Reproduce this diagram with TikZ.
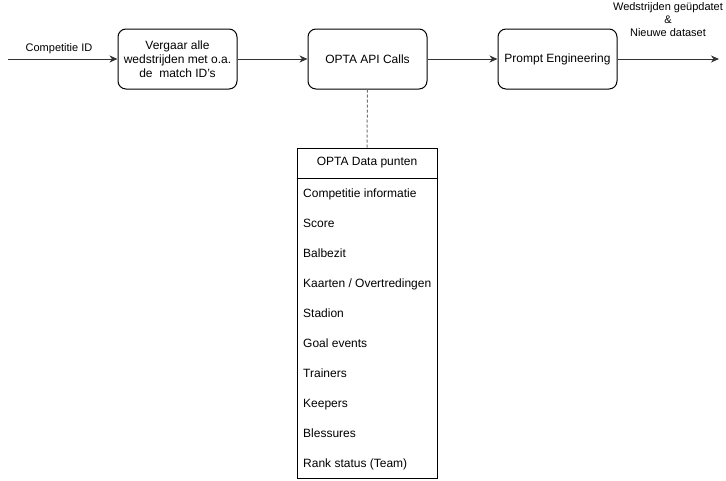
\documentclass[tikz,border=0pt]{standalone}
\usepackage{fontspec}
\setmainfont{Liberation Sans}
\usetikzlibrary{arrows.meta,positioning}
\tikzset
{
    process/.style   = {rectangle, rounded corners=8pt, draw=black, line width=1pt, align=center, minimum width=119pt, minimum height=60pt, inner sep=2pt, font=\fontsize{12}{14}\selectfont},
    datatable/.style = {rectangle, draw=black, line width=1pt, minimum width=140pt, minimum height=330pt},
    tablehead/.style = {font=\fontsize{12}{14}\selectfont},
    tableitem/.style = {anchor=base west, inner sep=0pt, font=\fontsize{12}{14}\selectfont},
    edgetext/.style  = {align=center, font=\fontsize{11}{13}\selectfont},
    arrow/.style     = {line width=1pt, color=black!80, ->, >={Stealth[length=8pt,width=7pt,inset=2.5pt]}},
    link/.style      = {line width=1pt, color=black!55, dash pattern=on 3pt off 2pt}
}
\begin{document}
\begin{tikzpicture}[x=1pt, y=-1pt]
\useasboundingbox (0,0) rectangle (726,480);
% main flow
\coordinate (in) at (8,59);
\coordinate (out) at (719,59);
\node(vergaar) [process] at (177.5,59) {Vergaar alle\\wedstrijden met o.a.\\de\ \ match ID's};
\node(apicalls) [process] at (367.5,59) {OPTA API Calls};
\node(prompt) [process] at (557.5,59) {Prompt Engineering};
\node(compid) [edgetext] at (59,49) {Competitie ID};
\node(result) [edgetext] at (668,20) {Wedstrijden geüpdatet\\\&\\Nieuwe dataset};
\draw[arrow] (in) -- (vergaar);
\draw[arrow] (vergaar) -- (apicalls);
\draw[arrow] (apicalls) -- (prompt);
\draw[arrow] (prompt) -- (out);
% data punten table
\node(datapunten) [datatable] at (367,313) {};
\node(header) [tablehead] at (367,163) {OPTA Data punten};
\draw[line width=1pt] ([yshift=-31pt]datapunten.north west) -- ([yshift=-31pt]datapunten.north east);
\node(competitie) [tableitem] at (303,197) {Competitie informatie};
\node(score) [tableitem] at (303,227) {Score};
\node(balbezit) [tableitem] at (303,257) {Balbezit};
\node(kaarten) [tableitem] at (303,287) {Kaarten / Overtredingen};
\node(stadion) [tableitem] at (303,317) {Stadion};
\node(goals) [tableitem] at (303,347) {Goal events};
\node(trainers) [tableitem] at (303,377) {Trainers};
\node(keepers) [tableitem] at (303,407) {Keepers};
\node(blessures) [tableitem] at (303,437) {Blessures};
\node(rank) [tableitem] at (303,467) {Rank status (Team)};
\draw[link] (apicalls.south) -- (datapunten.north);
\end{tikzpicture}
\end{document}
